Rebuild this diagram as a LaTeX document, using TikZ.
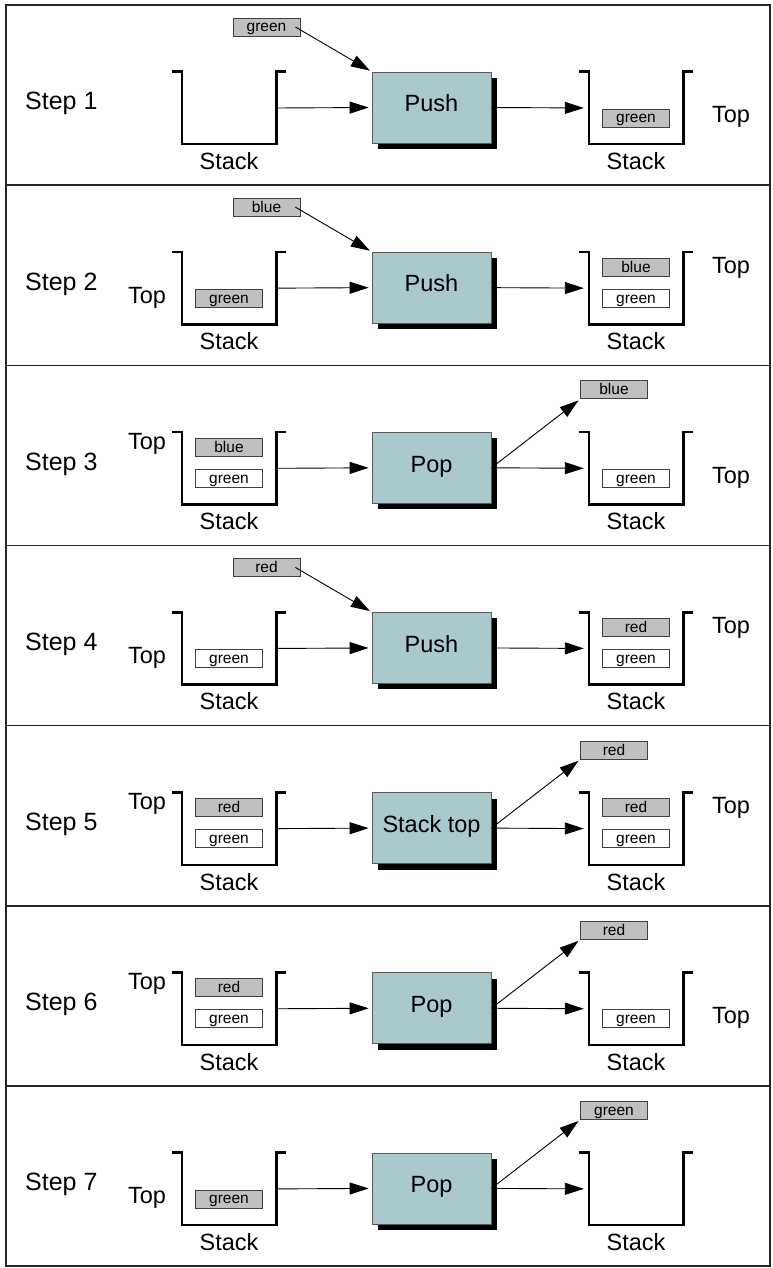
\documentclass[tikz,border=0pt]{standalone}
\usepackage{fontspec}
\setmainfont{Liberation Sans}
\usetikzlibrary{arrows.meta}
\usetikzlibrary{shadows}
\usetikzlibrary{positioning}

\definecolor{opfill}{RGB}{170,201,205}
\definecolor{itemfill}{RGB}{192,192,192}

\tikzset{
  panel/.style={draw=black!85,line width=1.6pt},
  bigtext/.style={font=\fontsize{23.5}{28}\selectfont,inner sep=0pt,anchor=base},
  steptext/.style={font=\fontsize{25}{30}\selectfont,inner sep=0pt,anchor=base west},
  stackbox/.style={minimum width=94pt,minimum height=72pt,inner sep=0pt},
  stackwall/.style={line width=2.6pt},
  opbox/.style={draw=black!65,line width=0.8pt,fill=opfill,minimum width=119pt,minimum height=71pt,
    inner sep=0pt,text height=14.4pt,text depth=6pt,font=\fontsize{23.5}{28}\selectfont,
    drop shadow={shadow xshift=6pt,shadow yshift=-6pt,fill=black,opacity=1}},
  gitem/.style={draw=black!75,line width=0.8pt,fill=itemfill,minimum width=67pt,minimum height=18pt,
    inner sep=0pt,text height=12pt,text depth=2pt,font=\fontsize{15.5}{18}\selectfont},
  witem/.style={gitem,fill=white},
  arr/.style={line width=0.9pt,-{Triangle[length=19pt,width=12pt]}},
}

\begin{document}
\begin{tikzpicture}[x=1pt,y=-1pt]
  \useasboundingbox (0,0) rectangle (772,1268);
  \foreach \k/\opname in {1/Push,2/Push,3/Pop,4/Push,5/Stack top,6/Pop,7/Pop} {
    \pgfmathsetmacro\py{5+180.15*(\k-1)}
    \begin{scope}[yshift=-\py pt]
      \draw[panel] (6,0) rectangle (770,180.15);
      \node[steptext] (st\k) at (25,105) {Step \k};
      \node[stackbox] (ls\k) at (229,103) {};
      \node[stackbox] (rs\k) at (636,103) {};
      \foreach \s in {ls\k,rs\k}
        \draw[stackwall] ([xshift=-10pt]\s.north west) -- (\s.north west) -- (\s.south west)
          -- (\s.south east) -- (\s.north east) -- ++(10,0);
      \node[bigtext] (lsl\k) at (229,164.5) {Stack};
      \node[bigtext] (rsl\k) at (636,164.5) {Stack};
      \node[opbox] (op\k) at (431.5,102.5) {\opname};
      \draw[arr,shorten >=3pt] (ls\k.east) -- (op\k.west);
      \draw[arr,shorten >=5pt] (op\k.east) -- (rs\k.west);
      \coordinate (lup\k) at (229,82);
      \coordinate (llo\k) at (229,113);
      \coordinate (rup\k) at (636,82);
      \coordinate (rlo\k) at (636,113);
      \coordinate (inp\k) at (266.5,22);
      \coordinate (outp\k) at (614,24.5);
      \coordinate (ltu\k) at (147,84);
      \coordinate (ltl\k) at (147,118);
      \coordinate (rtu\k) at (731,88);
      \coordinate (rtl\k) at (731,118);
    \end{scope}
  }

  % step 1
  \node[gitem] (in1) at (inp1) {green};
  \draw[arr,shorten >=2pt] ([xshift=-5pt]in1.east) -- (op1.north west);
  \node[gitem] (r1b) at (rlo1) {green};
  \node[bigtext] (rt1) at (rtl1) {Top};

  % step 2
  \node[gitem] (in2) at (inp2) {blue};
  \draw[arr,shorten >=2pt] ([xshift=-5pt]in2.east) -- (op2.north west);
  \node[gitem] (l2b) at (llo2) {green};
  \node[gitem] (r2a) at (rup2) {blue};
  \node[witem] (r2b) at (rlo2) {green};
  \node[bigtext] (lt2) at (ltl2) {Top};
  \node[bigtext] (rt2) at (rtu2) {Top};

  % step 3
  \node[gitem] (l3a) at (lup3) {blue};
  \node[witem] (l3b) at (llo3) {green};
  \node[gitem] (out3) at (outp3) {blue};
  \draw[arr,shorten >=2pt] (op3.east) -- (out3.south west);
  \node[witem] (r3b) at (rlo3) {green};
  \node[bigtext] (lt3) at (ltu3) {Top};
  \node[bigtext] (rt3) at (rtl3) {Top};

  % step 4
  \node[gitem] (in4) at (inp4) {red};
  \draw[arr,shorten >=2pt] ([xshift=-5pt]in4.east) -- (op4.north west);
  \node[witem] (l4b) at (llo4) {green};
  \node[gitem] (r4a) at (rup4) {red};
  \node[witem] (r4b) at (rlo4) {green};
  \node[bigtext] (lt4) at (ltl4) {Top};
  \node[bigtext] (rt4) at (rtu4) {Top};

  % step 5
  \node[gitem] (l5a) at (lup5) {red};
  \node[witem] (l5b) at (llo5) {green};
  \node[gitem] (out5) at (outp5) {red};
  \draw[arr,shorten >=2pt] (op5.east) -- (out5.south west);
  \node[gitem] (r5a) at (rup5) {red};
  \node[witem] (r5b) at (rlo5) {green};
  \node[bigtext] (lt5) at (ltu5) {Top};
  \node[bigtext] (rt5) at (rtu5) {Top};

  % step 6
  \node[gitem] (l6a) at (lup6) {red};
  \node[witem] (l6b) at (llo6) {green};
  \node[gitem] (out6) at (outp6) {red};
  \draw[arr,shorten >=2pt] (op6.east) -- (out6.south west);
  \node[witem] (r6b) at (rlo6) {green};
  \node[bigtext] (lt6) at (ltu6) {Top};
  \node[bigtext] (rt6) at (rtl6) {Top};

  % step 7
  \node[gitem] (l7b) at (llo7) {green};
  \node[gitem] (out7) at (outp7) {green};
  \draw[arr,shorten >=2pt] (op7.east) -- (out7.south west);
  \node[bigtext] (lt7) at (ltl7) {Top};
\end{tikzpicture}
\end{document}
